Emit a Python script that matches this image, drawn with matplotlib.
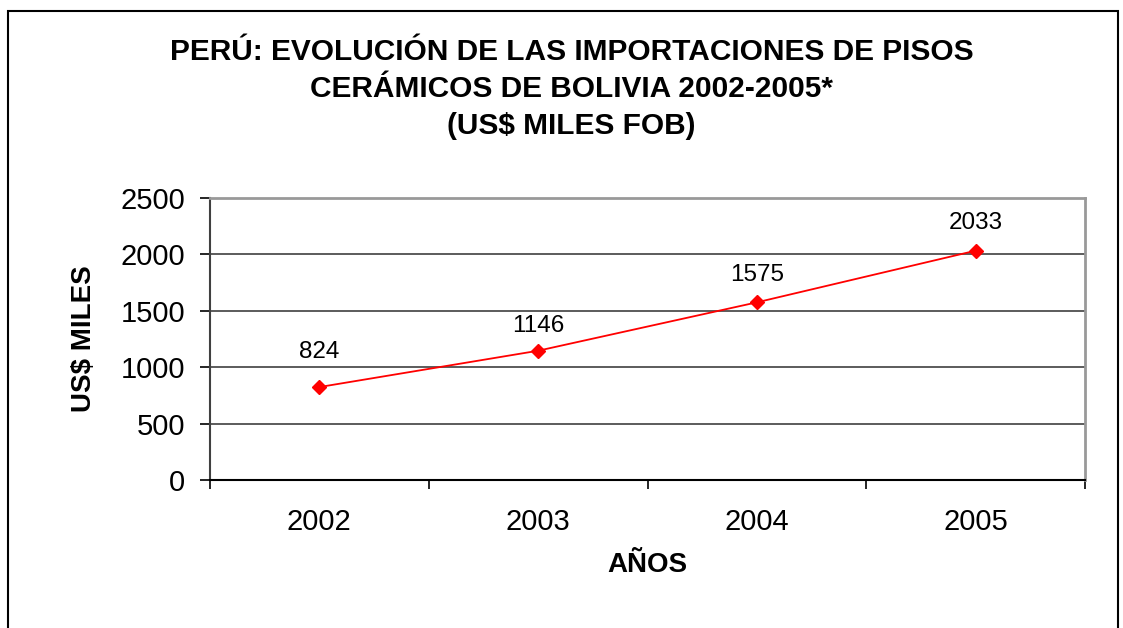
import matplotlib.pyplot as plt
from matplotlib.patches import Rectangle

# datos
anios = ['2002', '2003', '2004', '2005']
valores = [824, 1146, 1575, 2033]
y_ticks = [0, 500, 1000, 1500, 2000, 2500]

# desplazamiento vertical de cada etiqueta (puntos), como en el original
label_dy = [25, 17.5, 19.5, 20]

plt.rcParams['font.family'] = ['Liberation Sans', 'DejaVu Sans']

W, H = 1123, 628
fig = plt.figure(figsize=(W / 100, H / 100), dpi=100)
ax = fig.add_axes([210 / W, 1 - 480 / H, 875 / W, 282 / H])

x = range(len(anios))
ax.plot(x, valores, color='red', lw=1.3, marker='D', ms=7, zorder=3)
for xi, v, dy in zip(x, valores, label_dy):
    ax.annotate(str(v), (xi, v), xytext=(0, dy), textcoords='offset points',
                ha='center', va='center', fontsize=17.5)

ax.set_xlim(-0.5, len(anios) - 0.5)
ax.set_ylim(0, 2500)
ax.set_yticks(y_ticks)
ax.set_xticks(x)
ax.set_xticklabels(anios)
ax.set_xticks([i - 0.5 for i in range(len(anios) + 1)], minor=True)
ax.tick_params(axis='x', which='major', length=0, labelsize=21, pad=20)
ax.tick_params(axis='x', which='minor', length=6.5, width=1.2, color='black')
ax.tick_params(axis='y', length=7.2, width=1.2, labelsize=21, pad=10.5)
ax.grid(axis='y', color='#404040', lw=1.2)
ax.set_axisbelow(True)

ax.spines['left'].set_color('#404040')
ax.spines['left'].set_linewidth(1.5)
ax.spines['bottom'].set_color('black')
ax.spines['bottom'].set_linewidth(1.5)
for s in ('top', 'right'):
    ax.spines[s].set_color('#999999')
    ax.spines[s].set_linewidth(2)

ax.set_xlabel('AÑOS', fontsize=20, fontweight='bold', labelpad=12)
ax.set_ylabel('US$ MILES', fontsize=20, fontweight='bold', labelpad=17)

fig.text(0.5 * (171 + 972) / W, 1 - 89 / H,
         'PERÚ: EVOLUCIÓN DE LAS IMPORTACIONES DE PISOS\n'
         'CERÁMICOS DE BOLIVIA 2002-2005*\n(US$ MILES FOB)',
         ha='center', va='center', fontsize=21.5, fontweight='bold',
         linespacing=1.42)

# marco exterior
fig.patches.append(Rectangle((8 / W, -0.1), 1110 / W, 1.1 - 11 / H,
                             transform=fig.transFigure, fill=False,
                             edgecolor='black', lw=1.5))

fig.savefig('out.png', dpi=100)
